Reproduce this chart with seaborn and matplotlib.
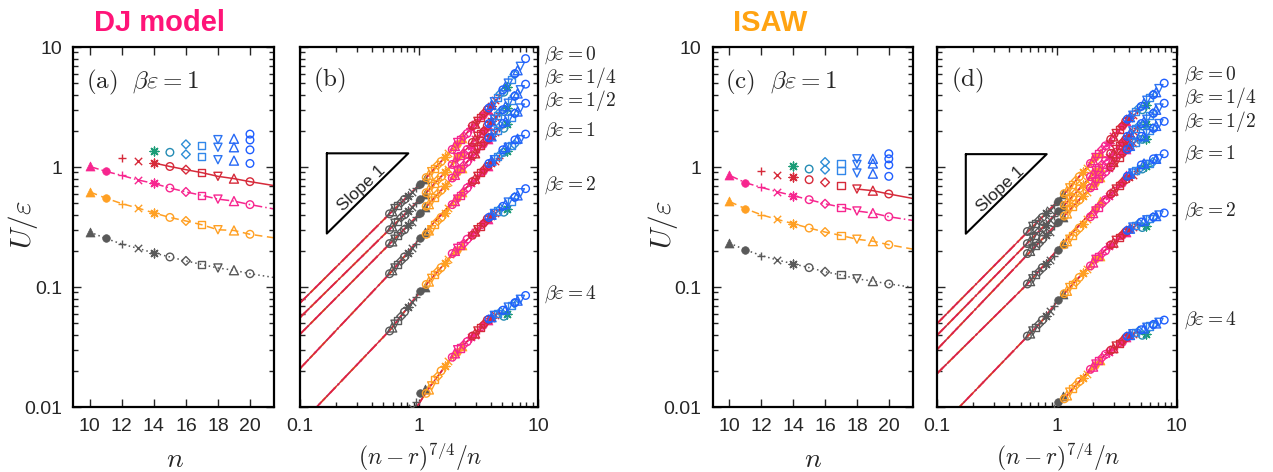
import numpy as np
import pandas as pd
import seaborn as sns
import matplotlib
matplotlib.use("Agg")
import matplotlib.pyplot as plt
from matplotlib.ticker import FixedLocator, NullFormatter, LogLocator

# ---------------- data ----------------
BETAS = ["0", "1/4", "1/2", "1", "2", "4"]
N = list(range(10, 21))            # n for the m = 4, 6, 8 groups
N_RED = list(range(12, 21))        # n for the m = 10 group
GROUP_M = {"gray": 4, "orange": 6, "pink": 8, "red": 10}   # m = n - r
BLUE_N = [14, 15, 16, 16, 17, 17, 18, 18, 18, 19, 19, 19, 20, 20, 20, 20]
BLUE_M = [12, 12, 12, 14, 12, 14, 12, 14, 16, 12, 14, 16, 12, 14, 16, 18]

# panel (a), DJ model, beta*eps = 1
A_GRAY = [0.287, 0.254, 0.228, 0.21, 0.192, 0.178, 0.165, 0.154, 0.144, 0.138, 0.129]
A_ORANGE = [0.62, 0.55, 0.495, 0.455, 0.414, 0.38, 0.355, 0.33, 0.30, 0.296, 0.275]
A_PINK = [1.01, 0.92, 0.85, 0.78, 0.73, 0.668, 0.62, 0.58, 0.54, 0.52, 0.486]
A_RED = [1.19, 1.13, 1.08, 1.01, 0.95, 0.897, 0.836, 0.80, 0.755]
A_BLUE = [1.37, 1.325, 1.275, 1.545, 1.23, 1.515, 1.15, 1.46, 1.69, 1.13, 1.46, 1.72, 1.07, 1.39, 1.68, 1.88]
A_END = {"gray": 0.12, "orange": 0.257, "pink": 0.447, "red": 0.70}

# panel (c), ISAW, beta*eps = 1
C_GRAY = [0.232, 0.204, 0.183, 0.168, 0.156, 0.145, 0.134, 0.126, 0.117, 0.112, 0.106]
C_ORANGE = [0.516, 0.449, 0.40, 0.366, 0.337, 0.31, 0.287, 0.269, 0.25, 0.241, 0.225]
C_PINK = [0.853, 0.74, 0.676, 0.622, 0.577, 0.534, 0.494, 0.463, 0.43, 0.413, 0.385]
C_RED = [0.92, 0.863, 0.826, 0.784, 0.745, 0.703, 0.655, 0.635, 0.596]
C_BLUE = [1.01, 0.962, 0.95, 1.10, 0.933, 1.07, 0.891, 1.05, 1.17, 0.88, 1.07, 1.17, 0.836, 1.04, 1.17, 1.29]
C_END = {"gray": 0.0995, "orange": 0.207, "pink": 0.359, "red": 0.547}

# panel (b), DJ model, all beta*eps
B_GRAY = {
    "0": [0.801, 0.723, 0.665, 0.616, 0.574, 0.537, 0.504, 0.476, 0.45, 0.428, 0.407],
    "1/4": [0.60, 0.54, 0.50, 0.46, 0.43, 0.40, 0.38, 0.35, 0.34, 0.32, 0.30],
    "1/2": [0.46, 0.41, 0.38, 0.35, 0.33, 0.30, 0.285, 0.27, 0.25, 0.24, 0.23],
    "1": A_GRAY,
    "2": [0.10, 0.092, 0.082, 0.075, 0.068, 0.062, 0.057, 0.053, 0.049, 0.046, 0.043],
    "4": [0.014, 0.013, 0.011, 0.0098, 0.0088, 0.008, 0.0073, 0.0067, 0.0062, 0.0057, 0.0053],
}
B_ORANGE = {
    "0": [1.73, 1.56, 1.42, 1.3, 1.2, 1.11, 1.04, 0.972, 0.914, 0.862, 0.816],
    "1/4": [1.3, 1.2, 1.1, 0.97, 0.9, 0.83, 0.78, 0.73, 0.69, 0.65, 0.61],
    "1/2": [0.99, 0.9, 0.82, 0.75, 0.69, 0.64, 0.6, 0.56, 0.52, 0.49, 0.47],
    "1": A_ORANGE,
    "2": [0.225, 0.205, 0.188, 0.171, 0.157, 0.145, 0.135, 0.126, 0.118, 0.111, 0.105],
    "4": [0.032, 0.029, 0.026, 0.024, 0.022, 0.02, 0.018, 0.017, 0.015, 0.014, 0.013],
}
B_PINK = {
    "0": [3.0, 2.7, 2.5, 2.3, 2.1, 1.9, 1.8, 1.7, 1.6, 1.5, 1.4],
    "1/4": [2.2, 2.0, 1.8, 1.7, 1.5, 1.4, 1.3, 1.25, 1.2, 1.1, 1.05],
    "1/2": [1.7, 1.55, 1.4, 1.3, 1.2, 1.1, 1.03, 0.97, 0.91, 0.86, 0.81],
    "1": A_PINK,
    "2": [0.37, 0.34, 0.31, 0.29, 0.27, 0.25, 0.23, 0.22, 0.21, 0.2, 0.19],
    "4": [0.053, 0.048, 0.044, 0.04, 0.038, 0.035, 0.033, 0.031, 0.03, 0.028, 0.026],
}
B_RED = {
    "0": [4.0, 3.6, 3.2, 3.0, 2.8, 2.6, 2.4, 2.3, 2.2],
    "1/4": [2.8, 2.6, 2.4, 2.2, 2.0, 1.9, 1.8, 1.7, 1.6],
    "1/2": [2.1, 1.95, 1.8, 1.7, 1.6, 1.5, 1.4, 1.3, 1.24],
    "1": A_RED,
    "2": [0.44, 0.41, 0.39, 0.37, 0.34, 0.32, 0.3, 0.29, 0.27],
    "4": [0.061, 0.058, 0.055, 0.053, 0.049, 0.046, 0.043, 0.041, 0.039],
}
B_BLUE = {
    "0": [4.6, 4.2, 4.1, 5.9, 3.8, 5.4, 3.5, 5.0, 6.9, 3.3, 4.7, 6.4, 3.1, 4.4, 6.0, 8.0],
    "1/4": [3.1, 2.9, 2.9, 3.9, 2.7, 3.6, 2.5, 3.4, 4.4, 2.4, 3.2, 4.1, 2.3, 3.0, 3.9, 4.9],
    "1/2": [2.3, 2.1, 2.2, 2.8, 2.0, 2.6, 1.9, 2.5, 3.1, 1.8, 2.4, 2.9, 1.75, 2.3, 2.8, 3.4],
    "1": A_BLUE,
    "2": [0.45, 0.42, 0.45, 0.56, 0.43, 0.52, 0.41, 0.51, 0.61, 0.40, 0.49, 0.58, 0.38, 0.47, 0.56, 0.66],
    "4": [0.06, 0.057, 0.062, 0.073, 0.06, 0.07, 0.058, 0.068, 0.079, 0.056, 0.065, 0.077, 0.054, 0.064, 0.074, 0.085],
}
B_LINE_X = {
    "0": [0.1, 0.566, 1.03, 2.0, 3.87, 5.62, 7.87],
    "1/4": [0.1, 1.03, 2.0, 3.87, 7.87],
    "1/2": [0.1, 1.03, 2.0, 3.87, 7.87],
    "1": [0.1, 0.566, 1.13, 2.30, 3.80, 4.02],
    "2": [0.1, 0.138, 0.57, 1.03, 1.94, 3.26, 3.87, 5.5, 7.87],
    "4": [0.1, 0.957, 1.236, 2.05, 2.82, 3.83, 5.62, 7.87],
}
B_LINE_Y = {
    "0": [0.0736, 0.407, 0.724, 1.48, 3.10, 5.01, 8.0],
    "1/4": [0.0557, 0.543, 1.107, 2.26, 4.89],
    "1/2": [0.0404, 0.415, 0.852, 1.75, 3.41],
    "1": [0.0209, 0.129, 0.287, 0.62, 1.01, 1.08],
    "2": [0.00724, 0.01, 0.0437, 0.0923, 0.190, 0.317, 0.380, 0.501, 0.656],
    "4": [0.000398, 0.01, 0.0148, 0.0288, 0.0389, 0.0537, 0.0676, 0.0851],
}

# panel (d), ISAW, all beta*eps
D_GRAY = {
    "0": [0.59, 0.52, 0.48, 0.44, 0.41, 0.38, 0.36, 0.34, 0.32, 0.30, 0.29],
    "1/4": [0.47, 0.43, 0.39, 0.36, 0.33, 0.31, 0.29, 0.27, 0.26, 0.24, 0.23],
    "1/2": [0.38, 0.35, 0.32, 0.29, 0.27, 0.25, 0.23, 0.22, 0.21, 0.2, 0.19],
    "1": C_GRAY,
    "2": [0.087, 0.078, 0.07, 0.063, 0.057, 0.053, 0.049, 0.046, 0.043, 0.041, 0.039],
    "4": [0.0123, 0.011, 0.0099, 0.009, 0.00824, 0.00758, 0.00702, 0.00653, 0.0061, 0.00572, 0.00538],
}
D_ORANGE = {
    "0": [1.3, 1.2, 1.1, 0.99, 0.9, 0.83, 0.77, 0.72, 0.67, 0.63, 0.6],
    "1/4": [1.0, 0.92, 0.83, 0.77, 0.71, 0.66, 0.61, 0.57, 0.54, 0.51, 0.48],
    "1/2": [0.82, 0.74, 0.68, 0.62, 0.57, 0.53, 0.5, 0.47, 0.44, 0.41, 0.39],
    "1": C_ORANGE,
    "2": [0.18, 0.17, 0.15, 0.14, 0.13, 0.12, 0.11, 0.105, 0.099, 0.093, 0.088],
    "4": [0.0248, 0.0226, 0.0207, 0.019, 0.0175, 0.0163, 0.0152, 0.0142, 0.0133, 0.0125, 0.0117],
}
D_PINK = {
    "0": [2.4, 2.2, 1.95, 1.8, 1.6, 1.5, 1.4, 1.3, 1.2, 1.14, 1.07],
    "1/4": [1.75, 1.6, 1.44, 1.32, 1.22, 1.13, 1.05, 0.99, 0.93, 0.88, 0.83],
    "1/2": [1.4, 1.3, 1.2, 1.1, 0.98, 0.91, 0.85, 0.8, 0.75, 0.71, 0.67],
    "1": C_PINK,
    "2": [0.29, 0.27, 0.25, 0.23, 0.22, 0.2, 0.19, 0.18, 0.17, 0.16, 0.15],
    "4": [0.0383, 0.0349, 0.0325, 0.0307, 0.029, 0.0274, 0.0257, 0.0242, 0.0228, 0.0217, 0.0206],
}
D_RED = {
    "0": [3.0, 2.7, 2.55, 2.4, 2.2, 2.05, 1.9, 1.8, 1.7],
    "1/4": [2.1, 2.0, 1.8, 1.7, 1.6, 1.5, 1.4, 1.3, 1.3],
    "1/2": [1.7, 1.6, 1.5, 1.4, 1.3, 1.2, 1.1, 1.1, 1.0],
    "1": C_RED,
    "2": [0.333, 0.317, 0.303, 0.288, 0.272, 0.257, 0.245, 0.234, 0.224],
    "4": [0.0425, 0.0409, 0.0396, 0.0377, 0.0355, 0.0336, 0.0322, 0.0309, 0.0297],
}
D_BLUE = {
    "0": [3.3, 3.0, 3.1, 4.0, 2.9, 3.8, 2.7, 3.6, 4.5, 2.6, 3.4, 4.2, 2.5, 3.2, 4.0, 5.0],
    "1/4": [2.3, 2.2, 2.2, 2.8, 2.1, 2.7, 2.0, 2.5, 3.1, 1.9, 2.4, 3.0, 1.8, 2.3, 2.8, 3.4],
    "1/2": [1.7, 1.7, 1.7, 2.1, 1.6, 2.0, 1.6, 1.9, 2.3, 1.5, 1.8, 2.2, 1.4, 1.8, 2.1, 2.4],
    "1": C_BLUE,
    "2": [0.321, 0.313, 0.339, 0.381, 0.327, 0.372, 0.316, 0.363, 0.398, 0.306, 0.355, 0.39, 0.296, 0.348, 0.382, 0.414],
    "4": [0.0408, 0.0396, 0.0431, 0.0484, 0.0419, 0.0473, 0.0408, 0.0462, 0.0508, 0.0398, 0.0451, 0.0497, 0.0389, 0.044, 0.0487, 0.053],
}
D_LINE_X = {
    "0": [0.1, 1.03, 2.0, 3.87, 7.87],
    "1/4": [0.1, 1.03, 2.0, 3.87, 7.87],
    "1/2": [0.1, 1.03, 2.0, 3.87, 7.87],
    "1": [0.1, 0.566, 1.13, 2.30, 3.12, 3.80],
    "2": [0.1, 0.153, 0.721, 1.045, 1.368, 2.01, 2.60, 3.36, 3.87, 5.01, 6.31, 7.87],
    "4": [0.1, 1.007, 1.151, 1.368, 1.888, 2.60, 3.36, 3.87, 5.5, 7.87],
}
D_LINE_Y = {
    "0": [0.0498, 0.525, 1.135, 2.46, 4.95],
    "1/4": [0.0398, 0.427, 0.872, 1.79, 3.45],
    "1/2": [0.0303, 0.348, 0.706, 1.44, 2.43],
    "1": [0.0191, 0.106, 0.232, 0.516, 0.655, 0.853],
    "2": [0.00646, 0.01, 0.0498, 0.0794, 0.107, 0.161, 0.209, 0.261, 0.296, 0.347, 0.380, 0.414],
    "4": [0.000631, 0.01, 0.01175, 0.01436, 0.0204, 0.0281, 0.034, 0.0389, 0.0457, 0.053],
}

# ---------------- style ----------------
sns.set_style("ticks")
plt.rcParams["font.family"] = ["Liberation Sans", "DejaVu Sans"]
plt.rcParams["mathtext.fontset"] = "cm"

COL = {"gray": "#595959", "orange": "#ffa024", "pink": "#f7268f", "red": "#d62a3a"}
BLUE_COL = {14: "#1b9c77", 15: "#258cb4", 16: "#2d8dd6", 17: "#3187ea", 18: "#2c74f2", 19: "#2768f6", 20: "#1f5eff"}
MARK = {10: ("^", "fill"), 11: ("o", "fill"), 12: ("+", "line"), 13: ("x", "line"),
        14: ((8, 2, 0), "line"), 15: ("o", "open"), 16: ("D", "open"), 17: ("s", "open"),
        18: ("v", "open"), 19: ("^", "open"), 20: ("o", "open")}
SIZE = {"^": 42, "o": 30, "+": 40, "x": 28, "D": 20, "s": 26, "v": 34}
LS = {"gray": (0, (1, 2)), "orange": (0, (5, 3)), "pink": (0, (6, 2, 1, 2)), "red": "-"}


def draw_points(ax, xs, ys, ns, cols):
    df = pd.DataFrame({"x": xs, "y": ys, "n": ns, "c": cols})
    for (n, c), sub in df.groupby(["n", "c"], sort=False):
        mk, kind = MARK[n]
        s = 40 if isinstance(mk, tuple) else SIZE[mk]
        if kind == "fill":
            sns.scatterplot(data=sub, x="x", y="y", ax=ax, marker=mk, color=c, edgecolor=c,
                            s=s, linewidth=0.5, legend=False, zorder=3)
        elif kind == "open":
            sns.scatterplot(data=sub, x="x", y="y", ax=ax, marker=mk, facecolors="none",
                            edgecolor=c, s=s, linewidth=1.0, legend=False, zorder=3)
        else:
            sns.scatterplot(data=sub, x="x", y="y", ax=ax, marker=mk, color=c,
                            s=s, linewidth=1.0, legend=False, zorder=3)


def style_axes(ax, ylabels):
    ax.set_yscale("log")
    ax.set_ylim(0.01, 10)
    ax.yaxis.set_major_locator(FixedLocator([0.01, 0.1, 1, 10]))
    ax.yaxis.set_minor_locator(LogLocator(base=10, subs=np.arange(2, 10)))
    ax.yaxis.set_minor_formatter(NullFormatter())
    ax.set_yticklabels(["0.01", "0.1", "1", "10"] if ylabels else [])
    ax.tick_params(which="both", direction="in", top=True, right=True, labelsize=14, width=1.0)
    ax.tick_params(which="major", length=6, pad=8)
    ax.tick_params(which="minor", length=3.5)
    for sp in ax.spines.values():
        sp.set_linewidth(1.6)
        sp.set_color("black")
    ax.set_xlabel("")
    ax.set_ylabel("")


def panel_n(ax, gray, orange, pink, red, blue, end, red_start):
    groups = {"gray": gray, "orange": orange, "pink": pink, "red": red}
    for g in ["gray", "orange", "pink", "red"]:
        ns = N if g != "red" else N_RED
        i0 = ns.index(red_start) if g == "red" else 0
        sns.lineplot(x=ns[i0:] + [21.5], y=list(groups[g][i0:]) + [end[g]], ax=ax,
                     color=COL[g], linestyle=LS[g], lw=1.1,
                     estimator=None, sort=False, legend=False, zorder=2)
    for g in ["gray", "orange", "pink", "red"]:
        ns = N if g != "red" else N_RED
        draw_points(ax, ns, groups[g], ns, [COL[g]] * len(ns))
    draw_points(ax, BLUE_N, blue, BLUE_N, [BLUE_COL[n] for n in BLUE_N])
    ax.set_xlim(8.95, 21.5)
    ax.xaxis.set_major_locator(FixedLocator([10, 12, 14, 16, 18, 20]))
    style_axes(ax, True)


def panel_x(ax, data, line_x, line_y, red_end):
    ax.set_xscale("log")
    ends = {"gray": 1.13, "orange": 2.3, "pink": 3.9, "red": red_end}
    gray, orange, pink, red, blue = data
    for lab in BETAS:
        lx, ly = line_x[lab], line_y[lab]
        for g in ["gray", "orange", "pink", "red"]:
            idx = [i for i, x in enumerate(lx) if x <= ends[g] * 1.03]
            sns.lineplot(x=[lx[i] for i in idx], y=[ly[i] for i in idx], ax=ax,
                         color=COL[g], linestyle=LS[g], lw=1.3 if g != "red" else 1.0,
                         estimator=None, sort=False, legend=False, zorder=2)
        for g, vals in zip(["gray", "orange", "pink", "red"], [gray, orange, pink, red]):
            m = GROUP_M[g]
            ns = N if m < 10 else N_RED
            xs = [m ** 1.75 / n for n in ns]          # (n - r)^(7/4) / n
            draw_points(ax, xs, vals[lab], ns, [COL[g]] * len(ns))
        xs = [m ** 1.75 / n for n, m in zip(BLUE_N, BLUE_M)]
        draw_points(ax, xs, blue[lab], BLUE_N, [BLUE_COL[n] for n in BLUE_N])
    ax.set_xlim(0.1, 10)
    ax.xaxis.set_major_locator(FixedLocator([0.1, 1, 10]))
    ax.set_xticklabels(["0.1", "1", "10"])
    ax.xaxis.set_minor_locator(LogLocator(base=10, subs=np.arange(2, 10)))
    ax.xaxis.set_minor_formatter(NullFormatter())
    style_axes(ax, False)


W, H = 1273, 472
fig = plt.figure(figsize=(W / 100, H / 100), dpi=100)


def add_ax(l, r, t=47, b=407):
    return fig.add_axes([l / W, 1 - b / H, (r - l) / W, (b - t) / H])


ax_a = add_ax(73, 274)
ax_b = add_ax(300, 538)
ax_c = add_ax(712.7, 912.7)
ax_d = add_ax(937.3, 1176.7)

panel_n(ax_a, A_GRAY, A_ORANGE, A_PINK, A_RED, A_BLUE, A_END, 14)
panel_n(ax_c, C_GRAY, C_ORANGE, C_PINK, C_RED, C_BLUE, C_END, 18)
panel_x(ax_b, (B_GRAY, B_ORANGE, B_PINK, B_RED, B_BLUE), B_LINE_X, B_LINE_Y, 4.0)
panel_x(ax_d, (D_GRAY, D_ORANGE, D_PINK, D_RED, D_BLUE), D_LINE_X, D_LINE_Y, 3.12)

# slope-1 triangles
for ax, tri, tx in [(ax_b, (0.168, 0.813, 1.30, 0.279), (0.33, 0.66)),
                    (ax_d, (0.173, 0.82, 1.28, 0.278), (0.34, 0.65))]:
    x0, x1, y1, y0 = tri
    ax.plot([x0, x1, x0, x0], [y1, y1, y0, y1], color="black", lw=1.5, zorder=4)
    ax.text(tx[0], tx[1], "Slope 1", rotation=43, ha="center", va="center", fontsize=12.5, zorder=5)


def ftext(px, py, s, **kw):
    fig.text(px / W, 1 - py / H, s, **kw)


ftext(159, 23, "DJ model", ha="center", va="center", fontsize=21, fontweight="bold", color="#ff1478")
ftext(770, 23, "ISAW", ha="center", va="center", fontsize=21, fontweight="bold", color="#ffa312")
for px in (23, 663):
    ftext(px, 225, r"$U/\varepsilon$", ha="center", va="center", rotation=90, fontsize=21)
for px in (175, 813):
    ftext(px, 460, r"$n$", ha="center", va="center", fontsize=20)
for px in (420, 1058):
    ftext(px, 457, r"$(n-r)^{7/4}/n$", ha="center", va="center", fontsize=17)
ftext(86, 82, r"$\mathrm{(a)}\ \ \beta\varepsilon = 1$", ha="left", va="center", fontsize=18)
ftext(725, 82, r"$\mathrm{(c)}\ \ \beta\varepsilon = 1$", ha="left", va="center", fontsize=18)
ftext(313, 80, r"$\mathrm{(b)}$", ha="left", va="center", fontsize=18)
ftext(951, 80, r"$\mathrm{(d)}$", ha="left", va="center", fontsize=18)
for lab, yb, yd in zip(BETAS, [55, 77.7, 100.7, 131, 185.7, 294], [75, 97.5, 121, 154.3, 211.7, 320]):
    ftext(544, yb, r"$\beta\varepsilon = %s$" % lab, ha="left", va="center", fontsize=14)
    ftext(1184, yd, r"$\beta\varepsilon = %s$" % lab, ha="left", va="center", fontsize=14)

fig.savefig("out.png", dpi=100)
